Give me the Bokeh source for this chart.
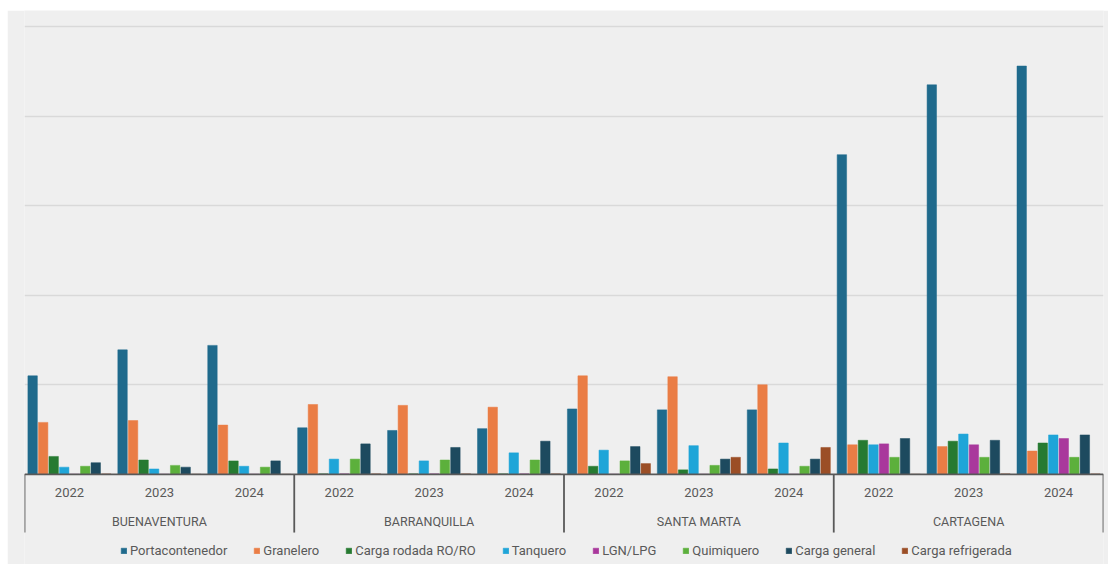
from bokeh.plotting import figure
from bokeh.models import (FactorRange, ColumnDataSource, FixedTicker, Span, Legend,
                          LegendItem, Spacer)
from bokeh.layouts import column, row
from bokeh.transform import dodge
from bokeh.core.properties import value
from bokeh.embed import file_html
from bokeh.resources import INLINE

ports = ["BUENAVENTURA", "BARRANQUILLA", "SANTA MARTA", "CARTAGENA"]
years = ["2022", "2023", "2024"]
vessel_types = ["Portacontenedor", "Granelero", "Carga rodada RO/RO", "Tanquero",
                "LGN/LPG", "Quimiquero", "Carga general", "Carga refrigerada"]

# values per (port, year), in order of ports x years (relative units; grid step = 100)
portacontenedor = [110, 139, 144, 52, 49, 51, 73, 72, 72, 357, 435, 456]
granelero = [58, 60, 55, 78, 77, 75, 110, 109, 100, 33, 31, 26]
carga_rodada = [20, 16, 15, 0.5, 0.5, 0.5, 9, 5, 6, 38, 37, 35]
tanquero = [8, 6, 9, 17, 15, 24, 27, 32, 35, 33, 45, 44]
lgn_lpg = [0, 0, 0, 0.5, 0.5, 0.5, 0, 0, 0, 34, 33, 40]
quimiquero = [9, 10, 8, 17, 16, 16, 15, 10, 9, 19, 19, 19]
carga_general = [13, 8, 15, 34, 30, 37, 31, 17, 17, 40, 38, 44]
carga_refrigerada = [0.5, 0, 0, 0.5, 0.5, 0.5, 12, 19, 30, 0, 0.5, 0.5]

series = [portacontenedor, granelero, carga_rodada, tanquero,
          lgn_lpg, quimiquero, carga_general, carga_refrigerada]
colors = ["#1f6a8c", "#ea7d45", "#267a31", "#1fa5d8",
          "#a9389c", "#5cb03c", "#1d4a5f", "#9b4e26"]

FONT = "Roboto"
TXT = "#595959"
BG = "#efefef"

factors = [(pt, yr) for pt in ports for yr in years]
data = dict(x=factors)
for i, s in enumerate(series):
    data[f"s{i}"] = s
source = ColumnDataSource(data=data)

x_range = FactorRange(*factors, factor_padding=0, group_padding=0,
                      subgroup_padding=0, range_padding=0)

p = figure(x_range=x_range, y_range=(-100.7, 518), width=1101, height=554,
           output_backend="svg", toolbar_location=None,
           min_border_left=17, min_border_right=5, min_border_top=0, min_border_bottom=0)
p.xaxis.visible = False
p.yaxis.visible = False
p.outline_line_color = None
p.background_fill_color = BG
p.border_fill_color = BG
p.xgrid.visible = False
p.ygrid.ticker = FixedTicker(ticks=[100, 200, 300, 400, 500])
p.ygrid.grid_line_color = "#d9d9d9"
p.ygrid.grid_line_width = 1.5

step = 0.117
renderers = []
for i, (name, col) in enumerate(zip(vessel_types, colors)):
    r = p.vbar(x=dodge("x", (i - 3.5) * step, range=p.x_range), top=f"s{i}",
               width=0.105, source=source, fill_color=col, line_color=col, line_width=0.5)
    renderers.append(r)

# baseline
p.add_layout(Span(location=0, dimension="width", line_color=TXT, line_width=1.8))

# separators between ports
sep_left = ColumnDataSource(dict(x=[(pt, years[0]) for pt in ports]))
p.segment(x0=dodge("x", -0.5, range=p.x_range), y0=0,
          x1=dodge("x", -0.5, range=p.x_range), y1=-65,
          source=sep_left, line_color=TXT, line_width=1.8)
sep_right = ColumnDataSource(dict(x=[(ports[-1], years[-1])]))
p.segment(x0=dodge("x", 0.5, range=p.x_range), y0=0,
          x1=dodge("x", 0.5, range=p.x_range), y1=-65,
          source=sep_right, line_color=TXT, line_width=1.8)

# year labels
year_src = ColumnDataSource(dict(x=factors, t=[yr for _, yr in factors]))
p.text(x="x", y=-20, text="t", source=year_src, text_align="center",
       text_baseline="middle", text_font=value(FONT), text_font_size="13px",
       text_color=TXT)

# port labels
port_src = ColumnDataSource(dict(x=ports, t=ports))
p.text(x="x", y=-53, text="t", source=port_src, text_align="center",
       text_baseline="middle", text_font=value(FONT), text_font_size="12.5px",
       text_color=TXT)

legend = Legend(items=[LegendItem(label=n, renderers=[r]) for n, r in zip(vessel_types, renderers)],
                location=(96, 6), orientation="horizontal",
                glyph_width=7, glyph_height=7, label_standoff=3, spacing=26,
                label_height=13, padding=0, margin=0,
                label_text_font=FONT, label_text_font_size="13px", label_text_color=TXT,
                border_line_color=None, background_fill_alpha=0)
p.add_layout(legend)

layout = column(Spacer(height=10, width=1101), row(Spacer(width=7, height=554), p))
open("out.html", "w").write(file_html(layout, INLINE))
